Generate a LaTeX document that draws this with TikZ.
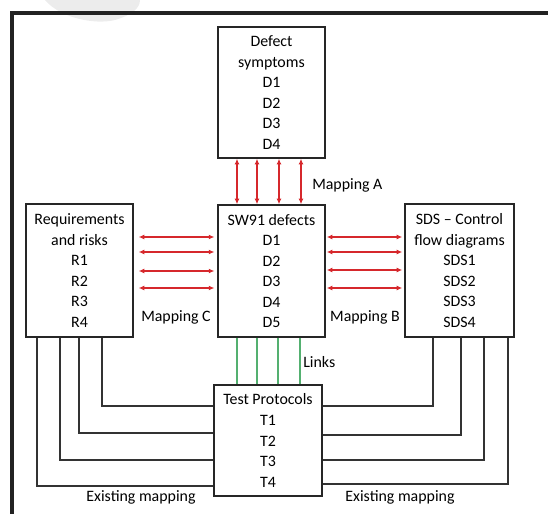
\documentclass[tikz,border=0pt]{standalone}
\usepackage{fontspec}
\setmainfont{Carlito}
\usepackage{tikz}
\usetikzlibrary{positioning}
\usetikzlibrary{calc}
\usetikzlibrary{arrows.meta}
\definecolor{mapred}{RGB}{214,40,44}
\definecolor{linkgreen}{RGB}{84,176,112}
\definecolor{framegray}{RGB}{34,34,34}

\tikzset{
  block/.style={draw=black!85, line width=1pt, align=center, inner sep=0pt,
    font=\fontsize{11.3}{14.6}\selectfont},
  maparrow/.style={mapred, line width=1pt,
    {Latex[length=4pt,width=3.5pt]}-{Latex[length=4pt,width=3.5pt]}},
  linkline/.style={linkgreen, line width=1pt},
  existline/.style={black!80, line width=0.8pt},
  lbl/.style={font=\fontsize{11.3}{14.6}\selectfont, inner sep=0pt},
}

\begin{document}
\begin{tikzpicture}[x=0.025cm, y=-0.025cm]
            \useasboundingbox (0,0) rectangle (548,514);
            \clip (0,0) rectangle (548,514);
            % faint mark and frame
            \fill[gray!15] (45,0) .. controls (60,18) and (95,25) .. (115,20) .. controls (132,15) and (140,8) .. (140,0) -- cycle;
            \draw[framegray, line width=2.2pt] (12,514) -- (12,13) -- (548,13);

            % boxes
            \node[block, minimum width=2.675cm, minimum height=3.275cm] (sym) at (271.5,92.5) {Defect\\symptoms\\D1\\D2\\D3\\D4};
            \node[block, minimum width=2.675cm, minimum height=3.3cm] (sw) at (271.5,271) {SW91 defects\\D1\\D2\\D3\\D4\\D5};
            \node[block, minimum width=2.675cm, minimum height=3.325cm] (req) at (79.5,270.5) {Requirements\\and risks\\R1\\R2\\R3\\R4};
            \node[block, minimum width=2.725cm, minimum height=3.325cm] (sds) at (459.5,270.5) {SDS – Control\\flow diagrams\\SDS1\\SDS2\\SDS3\\SDS4};
            \node[block, minimum width=2.7cm, minimum height=2.775cm] (tp) at (268,440.5) {Test Protocols\\T1\\T2\\T3\\T4};

            % mappings
            \foreach \x in {237,257,279,301}
                \draw[maparrow] (sym.south -| \x,0) -- (sw.north -| \x,0);
            \foreach \y in {237,252,271,288}
                \draw[maparrow, shorten <=3.5pt, shorten >=2pt] (req.east |- 0,\y) -- (sw.west |- 0,\y);
            \foreach \y in {237,252,270,288}
                \draw[maparrow, shorten <=0.7pt, shorten >=1.4pt] (sw.east |- 0,\y) -- (sds.west |- 0,\y);
            \foreach \x in {237,257,278,300}
                \draw[linkline] (sw.south -| \x,0) -- (tp.north -| \x,0);

            % existing mapping
            \foreach \x/\y in {102/406,79/433,60/460,37/486}
                \draw[existline] (req.south -| \x,0) |- (tp.west |- 0,\y);
            \foreach \x/\y in {433/406,461/435,484/460,508/484}
                \draw[existline] (sds.south -| \x,0) |- (tp.east |- 0,\y);

            % labels
            \node[lbl, anchor=west] (mapa) at (312,185) {Mapping A};
            \node[lbl] (mapc) at (176,317) {Mapping C};
            \node[lbl] (mapb) at (365,317) {Mapping B};
            \node[lbl, anchor=west] (links) at (303,362) {Links};
            \node[lbl] (exl) at (141,497) {Existing mapping};
            \node[lbl] (exr) at (400,497) {Existing mapping};
        \end{tikzpicture}
\end{document}
